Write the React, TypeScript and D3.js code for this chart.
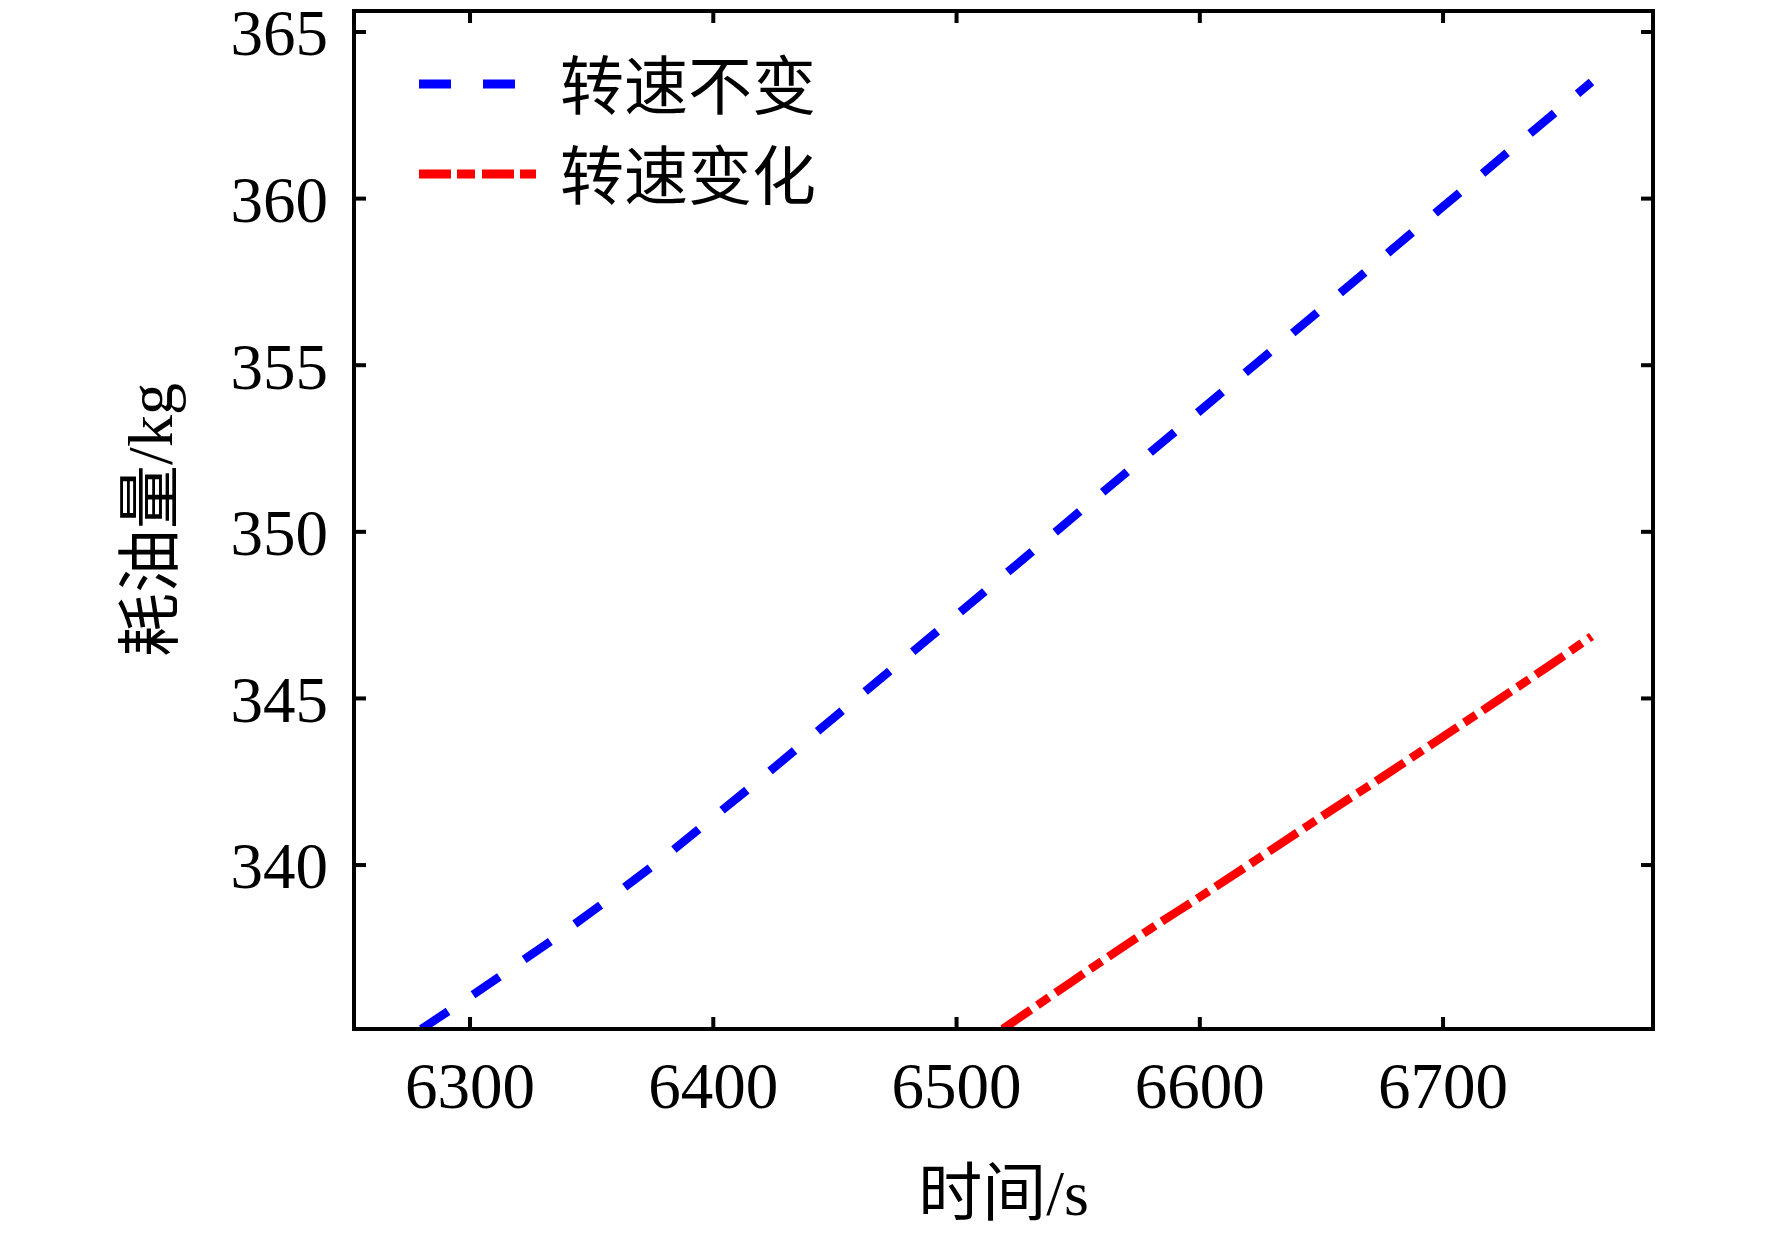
import React, { useRef, useEffect } from 'react'
import * as d3 from 'd3'

// 时间 (s) 与耗油量 (kg)
const xTicks = [6300, 6400, 6500, 6600, 6700]
const yTicks = [340, 345, 350, 355, 360, 365]

const constTime = [6280, 6300, 6320, 6340, 6360, 6380, 6400, 6420, 6440, 6460, 6480, 6500, 6550, 6600, 6650, 6700, 6761]
const constFuel = [335.08, 336.05, 337.05, 338.07, 339.14, 340.25, 341.43, 342.62, 343.84, 345.06, 346.28, 347.5, 350.57, 353.63, 356.69, 359.76, 363.5]

const varTime = [6519, 6540, 6560, 6580, 6600, 6650, 6675, 6700, 6722, 6744, 6761]
const varFuel = [335.08, 336.13, 337.13, 338.1, 339.04, 341.45, 342.64, 343.85, 344.92, 346.0, 346.86]

const seriesNames = ['转速不变', '转速变化']

const W = 1772
const H = 1236
const left = 354
const right = 1653
const top = 11
const bottom = 1029

const numFont = '"Liberation Serif", "Noto Sans CJK SC", serif'
const cjkFont = '"Liberation Serif", "Noto Sans CJK SC", sans-serif'

const App: React.FC = () => {
  const svgRef = useRef<SVGSVGElement>(null)

  useEffect(() => {
    if (!svgRef.current) return
    const svg = d3.select(svgRef.current)
    svg.selectAll('*').remove()

    const x = d3.scaleLinear().domain([6252.3, 6786.3]).range([left, right])
    const y = d3.scaleLinear().domain([335.08, 365.63]).range([bottom, top])

    svg.append('defs').append('clipPath').attr('id', 'plot-clip')
      .append('rect')
      .attr('x', left).attr('y', top)
      .attr('width', right - left).attr('height', bottom - top)

    const line = d3.line<[number, number]>()
      .x(d => x(d[0]))
      .y(d => y(d[1]))
      .curve(d3.curveMonotoneX)

    const plot = svg.append('g').attr('clip-path', 'url(#plot-clip)')

    plot.append('path')
      .datum(constTime.map((t, i) => [t, constFuel[i]] as [number, number]))
      .attr('d', line)
      .attr('fill', 'none')
      .attr('stroke', '#0000ff')
      .attr('stroke-width', 8.5)
      .attr('stroke-dasharray', '32,30')

    plot.append('path')
      .datum(varTime.map((t, i) => [t, varFuel[i]] as [number, number]))
      .attr('d', line)
      .attr('fill', 'none')
      .attr('stroke', '#ff0000')
      .attr('stroke-width', 8.5)
      .attr('stroke-dasharray', '34,8,14,8')

    // 坐标框
    svg.append('rect')
      .attr('x', left).attr('y', top)
      .attr('width', right - left).attr('height', bottom - top)
      .attr('fill', 'none')
      .attr('stroke', '#000')
      .attr('stroke-width', 4)

    const tickLen = 12
    const ticks = svg.append('g').attr('stroke', '#000').attr('stroke-width', 4)
    xTicks.forEach(v => {
      ticks.append('line').attr('x1', x(v)).attr('x2', x(v)).attr('y1', bottom).attr('y2', bottom - tickLen)
      ticks.append('line').attr('x1', x(v)).attr('x2', x(v)).attr('y1', top).attr('y2', top + tickLen)
    })
    yTicks.forEach(v => {
      ticks.append('line').attr('x1', left).attr('x2', left + tickLen).attr('y1', y(v)).attr('y2', y(v))
      ticks.append('line').attr('x1', right).attr('x2', right - tickLen).attr('y1', y(v)).attr('y2', y(v))
    })

    svg.append('g').selectAll('text')
      .data(xTicks)
      .enter().append('text')
      .attr('x', v => x(v))
      .attr('y', 1108)
      .attr('text-anchor', 'middle')
      .attr('font-family', numFont)
      .attr('font-size', 65)
      .attr('fill', '#000')
      .text(v => String(v))

    svg.append('g').selectAll('text')
      .data(yTicks)
      .enter().append('text')
      .attr('x', 328)
      .attr('y', v => y(v))
      .attr('dy', '0.36em')
      .attr('text-anchor', 'end')
      .attr('font-family', numFont)
      .attr('font-size', 65)
      .attr('fill', '#000')
      .text(v => String(v))

    // 轴标题
    svg.append('text')
      .attr('x', (left + right) / 2)
      .attr('y', 1215)
      .attr('text-anchor', 'middle')
      .attr('font-family', cjkFont)
      .attr('font-size', 64)
      .attr('fill', '#000')
      .text('时间/s')

    svg.append('text')
      .attr('transform', `translate(150, ${(top + bottom) / 2}) rotate(-90)`)
      .attr('text-anchor', 'middle')
      .attr('dominant-baseline', 'central')
      .attr('font-family', cjkFont)
      .attr('font-size', 64)
      .attr('fill', '#000')
      .text('耗油量/kg')

    // 图例
    const legend = svg.append('g')
    const legendStyles = [
      { color: '#0000ff', dash: '32,32', y: 84 },
      { color: '#ff0000', dash: '32,6,18,7', y: 174 }
    ]
    legendStyles.forEach((s, i) => {
      legend.append('line')
        .attr('x1', 419).attr('x2', 536)
        .attr('y1', s.y).attr('y2', s.y)
        .attr('stroke', s.color)
        .attr('stroke-width', 9)
        .attr('stroke-dasharray', s.dash)
      legend.append('text')
        .attr('x', 560)
        .attr('y', s.y + 3)
        .attr('dominant-baseline', 'central')
        .attr('font-family', cjkFont)
        .attr('font-size', 64)
        .attr('fill', '#000')
        .text(seriesNames[i])
    })
  }, [])

  return (
    <div>
      <style>{'body{margin:0;background:#fff}'}</style>
      <svg ref={svgRef} width={W} height={H} style={{ display: 'block', background: '#fff' }} />
    </div>
  )
}

export default App
